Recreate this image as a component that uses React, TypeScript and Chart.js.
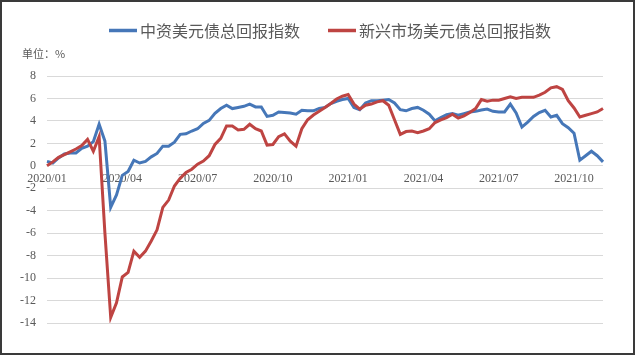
import React, { useEffect, useRef } from 'react';
import { Chart, registerables } from 'chart.js';

Chart.register(...registerables);

// Weekly observation dates (categories)
const dates = [
  '2020-01-01', '2020-01-08', '2020-01-15', '2020-01-22', '2020-01-29',
  '2020-02-05', '2020-02-12', '2020-02-19', '2020-02-26',
  '2020-03-04', '2020-03-11', '2020-03-18', '2020-03-25',
  '2020-04-01', '2020-04-08', '2020-04-15', '2020-04-22', '2020-04-29',
  '2020-05-06', '2020-05-13', '2020-05-20', '2020-05-27',
  '2020-06-03', '2020-06-10', '2020-06-17', '2020-06-24',
  '2020-07-01', '2020-07-08', '2020-07-15', '2020-07-22', '2020-07-29',
  '2020-08-05', '2020-08-12', '2020-08-19', '2020-08-26',
  '2020-09-02', '2020-09-09', '2020-09-16', '2020-09-23', '2020-09-30',
  '2020-10-07', '2020-10-14', '2020-10-21', '2020-10-28',
  '2020-11-04', '2020-11-11', '2020-11-18', '2020-11-25',
  '2020-12-02', '2020-12-09', '2020-12-16', '2020-12-23', '2020-12-30',
  '2021-01-06', '2021-01-13', '2021-01-20', '2021-01-27',
  '2021-02-03', '2021-02-10', '2021-02-17', '2021-02-24',
  '2021-03-03', '2021-03-10', '2021-03-17', '2021-03-24', '2021-03-31',
  '2021-04-07', '2021-04-14', '2021-04-21', '2021-04-28',
  '2021-05-05', '2021-05-12', '2021-05-19', '2021-05-26',
  '2021-06-02', '2021-06-09', '2021-06-16', '2021-06-23', '2021-06-30',
  '2021-07-07', '2021-07-14', '2021-07-21', '2021-07-28',
  '2021-08-04', '2021-08-11', '2021-08-18', '2021-08-25',
  '2021-09-01', '2021-09-08', '2021-09-15', '2021-09-22', '2021-09-29',
  '2021-10-06', '2021-10-13', '2021-10-20', '2021-10-27', '2021-11-03',
];

// Tick labels shown every 13 weeks (one quarter)
const quarterLabels = ['2020/01', '2020/04', '2020/07', '2020/10', '2021/01', '2021/04', '2021/07', '2021/10'];
const weeksPerLabel = 13;

const seriesNames = ['中资美元债总回报指数', '新兴市场美元债总回报指数'];
const unitLabel = '单位：%';

// 中资美元债总回报指数 (%)
const chinaUsdBond = [
  0.4, 0.25, 0.7, 1.05, 1.15, 1.15, 1.55, 1.75, 2.15, 3.7,
  2.2, -3.7, -2.6, -0.85, -0.5, 0.5, 0.25, 0.4, 0.8, 1.1,
  1.75, 1.75, 2.1, 2.8, 2.85, 3.1, 3.3, 3.78, 4.05, 4.67,
  5.1, 5.4, 5.1, 5.2, 5.3, 5.5, 5.25, 5.25, 4.4, 4.5,
  4.8, 4.75, 4.7, 4.6, 4.95, 4.9, 4.9, 5.12, 5.2, 5.55,
  5.75, 5.9, 6.0, 5.2, 5.0, 5.6, 5.8, 5.8, 5.85, 5.9,
  5.6, 5.0, 4.9, 5.1, 5.2, 4.95, 4.6, 4.0, 4.3, 4.55,
  4.65, 4.5, 4.65, 4.8, 4.85, 4.97, 5.05, 4.85, 4.8, 4.8,
  5.5, 4.7, 3.45, 3.9, 4.4, 4.75, 4.95, 4.35, 4.5, 3.75,
  3.4, 2.9, 0.5, 0.9, 1.3, 0.9, 0.35,
];

// 新兴市场美元债总回报指数 (%)
const emUsdBond = [
  0.0, 0.35, 0.75, 1.0, 1.25, 1.5, 1.8, 2.35, 1.3, 2.6,
  -6.0, -13.5, -12.2, -9.9, -9.5, -7.6, -8.15, -7.6, -6.7, -5.7,
  -3.7, -3.05, -1.8, -1.1, -0.6, -0.3, 0.15, 0.43, 0.9, 1.9,
  2.45, 3.55, 3.55, 3.2, 3.25, 3.7, 3.3, 3.1, 1.85, 1.9,
  2.6, 2.85, 2.2, 1.75, 3.3, 4.1, 4.52, 4.85, 5.2, 5.55,
  5.95, 6.2, 6.35, 5.5, 5.05, 5.4, 5.5, 5.7, 5.8, 5.4,
  4.1, 2.8, 3.05, 3.1, 2.95, 3.1, 3.3, 3.85, 4.1, 4.3,
  4.6, 4.25, 4.45, 4.75, 5.1, 5.9, 5.75, 5.85, 5.85, 6.0,
  6.15, 6.0, 6.1, 6.1, 6.1, 6.3, 6.55, 6.95, 7.05, 6.8,
  5.8, 5.15, 4.35, 4.5, 4.65, 4.8, 5.1,
];

const BLUE = '#4677b8';
const RED = '#be4442';
const TEXT = '#595959';

const decorPlugin = {
  id: 'decor',
  afterDraw(chart: any) {
    const ctx = chart.ctx as CanvasRenderingContext2D;
    ctx.save();
    // unit label
    ctx.fillStyle = TEXT;
    ctx.textAlign = 'left';
    ctx.textBaseline = 'middle';
    ctx.font = '11px "Noto Sans CJK SC"';
    ctx.fillText(unitLabel, 22, 54);
    // legend
    const starts = [109, 328];
    chart.data.datasets.forEach((ds: any, i: number) => {
      const x = starts[i];
      ctx.strokeStyle = ds.borderColor;
      ctx.lineWidth = 3.5;
      ctx.beginPath();
      ctx.moveTo(x, 30.5);
      ctx.lineTo(x + 28, 30.5);
      ctx.stroke();
      ctx.fillStyle = TEXT;
      ctx.font = '16px "Noto Sans CJK SC"';
      ctx.fillText(ds.label, x + 31, 31);
    });
    // frame
    ctx.strokeStyle = '#3a3a3a';
    ctx.lineWidth = 2;
    ctx.strokeRect(1, 1, 633, 353);
    ctx.restore();
  },
};

export default function App() {
  const ref = useRef<HTMLCanvasElement>(null);
  useEffect(() => {
    document.body.style.margin = '0';
    const chart = new Chart(ref.current as HTMLCanvasElement, {
      type: 'line',
      data: {
        labels: dates,
        datasets: [
          {
            label: seriesNames[0],
            data: chinaUsdBond,
            borderColor: BLUE,
            backgroundColor: BLUE,
            borderWidth: 3,
            pointRadius: 0,
            tension: 0,
            order: 2,
          },
          {
            label: seriesNames[1],
            data: emUsdBond,
            borderColor: RED,
            backgroundColor: RED,
            borderWidth: 3,
            pointRadius: 0,
            tension: 0,
            order: 1,
          },
        ],
      },
      options: {
        animation: false,
        responsive: false,
        devicePixelRatio: 1,
        layout: { padding: { top: 76, right: 33, bottom: 33, left: 0 } },
        plugins: {
          legend: { display: false },
          tooltip: { enabled: false },
          title: { display: false },
        },
        scales: {
          x: {
            type: 'category',
            position: { y: 0 } as any,
            grid: { display: false, drawTicks: false },
            border: { display: false },
            ticks: {
              autoSkip: false,
              maxRotation: 0,
              minRotation: 0,
              padding: 6,
              color: TEXT,
              font: { family: 'Liberation Serif', size: 12 },
              callback: (_v: any, i: number) =>
                i % weeksPerLabel === 0 ? quarterLabels[i / weeksPerLabel] ?? '' : '',
            },
          },
          y: {
            min: -14,
            max: 8,
            grid: { color: '#d9d9d9', drawTicks: false, lineWidth: 1 },
            border: { display: false },
            ticks: {
              stepSize: 2,
              padding: 11,
              color: TEXT,
              font: { family: 'Liberation Serif', size: 12 },
            },
            afterFit: (scale: any) => {
              scale.width = 47;
            },
          },
        },
      },
      plugins: [decorPlugin],
    });
    return () => chart.destroy();
  }, []);
  return <canvas ref={ref} width={636} height={356} style={{ display: 'block' }} />;
}
